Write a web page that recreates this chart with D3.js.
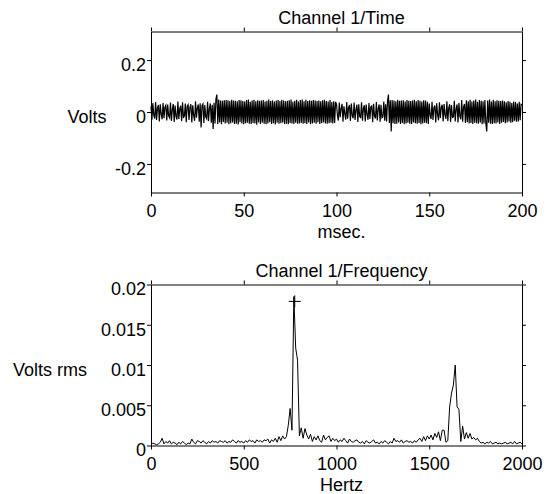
<!DOCTYPE html>
<html>
<head>
<meta charset="utf-8">
<script src="https://cdn.jsdelivr.net/npm/d3@7"></script>
<style>
  body { margin: 0; background: #fff; }
  text { font-family: "Liberation Sans", Arial, sans-serif; font-size: 18px; fill: #000; }
  .domain, .tick line { stroke: #000; }
</style>
</head>
<body>
<div id="chart"></div>
<script>
// channel 1, time record (volts, one sample every 0.5 ms)
var timeStepMs = 0.5;
var timeVolts = [
  .021,-.030,.034,-.012,-.025,.038,-.031,.015,.027,-.036,.030,-.008,-.028,.035,-.024,.019,.026,-.033,.029,-.015,
  -.022,.036,-.034,.010,.031,-.038,.025,-.018,-.029,.040,-.027,.012,.024,-.035,.037,-.020,-.016,.033,-.039,.022,
  .028,-.031,.018,.030,-.040,.026,-.013,-.034,.041,-.022,.016,.029,-.037,.034,-.060,.024,.031,-.042,.027,-.019,
  -.026,.039,-.035,.014,.033,-.041,.028,-.065,.036,-.044,.050,.067,-.046,.048,-.040,.044,-.047,.043,-.038,.045,
  -.044,.046,-.041,.045,-.047,.042,-.043,.047,-.040,.044,-.046,.043,-.045,.041,-.048,.046,-.039,.045,-.044,.042,
  -.047,.040,-.043,.046,-.041,.048,-.045,.039,-.046,.044,-.042,.047,-.044,.041,-.049,.045,-.040,.043,-.046,.044,
  -.041,.046,-.045,.040,-.047,.043,-.044,.048,-.039,.042,-.046,.045,-.043,.040,-.048,.044,-.041,.046,-.045,.042,
  -.043,.047,-.040,.044,-.046,.041,-.045,.043,-.047,.045,-.042,.048,-.044,.039,-.046,.043,-.041,.047,-.045,.040,
  -.044,.046,-.042,.048,-.045,.041,-.043,.047,-.046,.042,-.040,.045,-.047,.043,-.044,.046,-.041,.044,-.045,.042,
  -.039,.044,-.046,.041,-.043,.045,-.040,.047,-.044,.042,-.045,.040,-.043,.046,-.041,.038,-.044,.041,-.042,.039,
  .030,-.012,-.033,.036,-.020,.014,.031,-.037,.022,-.008,-.029,.038,-.026,.017,.027,-.035,.033,-.015,-.024,.036,
  -.031,.009,.028,-.038,.030,-.018,-.021,.037,-.034,.013,.026,-.036,.029,-.011,-.030,.035,-.027,.020,.023,-.039,
  .032,-.016,-.025,.038,-.033,.012,.029,-.037,.028,-.022,-.019,.040,-.034,.030,-.036,.041,.067,-.042,.045,-.075,
  .046,-.043,.044,-.046,.041,-.045,.047,-.040,.043,-.046,.044,-.042,.045,-.047,.040,-.044,.046,-.041,.043,-.045,
  .042,-.046,.044,-.040,.047,-.043,.041,-.045,.046,-.042,.043,-.047,.040,-.044,.045,-.041,.044,-.043,.039,-.046,
  .033,-.014,-.027,.039,-.031,.016,.025,-.040,.034,-.010,-.032,.037,-.023,.019,.028,-.036,.031,-.013,-.026,.041,
  -.035,.015,.030,-.038,.027,-.021,-.019,.043,-.036,.012,.029,-.040,.035,-.017,-.028,.046,-.037,.020,.031,-.042,
  .045,-.039,.041,-.044,.047,-.042,.040,-.046,.044,-.041,.048,-.043,.039,-.045,.046,-.040,.043,-.047,.041,-.044,
  .046,-.042,-.075,.044,-.041,.048,-.045,.040,-.046,.047,-.043,.041,-.044,.045,-.040,.043,-.046,.042,-.041,.044,
  -.038,.041,-.043,.037,-.040,.042,-.036,.039,-.041,.035,-.039,.040,-.034,.038,-.037,.033,-.036,.039,-.032,.030,
  .028
];

// channel 1, spectrum (volts rms, one bin every 10 Hz from 0 to 2000)
var freqStepHz = 10;
var spectrumVrms = [
  .0001,.0003,.0002,.0001,.0002,.0004,.0009,.0002,.0005,.0003,
  .0006,.0002,.0004,.0003,.0001,.0004,.0002,.0005,.0003,.0001,
  .0003,.0002,.0008,.0004,.0002,.0006,.0005,.0003,.0006,.0004,
  .0002,.0005,.0003,.0006,.0004,.0005,.0003,.0006,.0005,.0004,
  .0006,.0003,.0005,.0004,.0007,.0005,.0003,.0006,.0004,.0005,
  .0003,.0006,.0004,.0007,.0005,.0006,.0003,.0007,.0005,.0006,
  .0004,.0007,.0006,.0008,.0003,.0007,.0005,.0009,.0004,.0011,
  .0006,.0012,.0008,.0011,.0025,.0046,.0019,.0185,.0121,.0106,
  .0012,.0022,.0009,.0021,.0013,.0008,.0014,.0005,.0011,.0007,
  .0012,.0006,.0004,.0013,.0007,.0010,.0012,.0005,.0009,.0006,
  .0008,.0004,.0007,.0005,.0009,.0006,.0003,.0008,.0005,.0004,
  .0006,.0007,.0004,.0003,.0005,.0002,.0006,.0004,.0003,.0005,
  .0007,.0003,.0004,.0002,.0005,.0003,.0006,.0004,.0002,.0005,
  .0003,.0009,.0005,.0006,.0004,.0007,.0003,.0005,.0006,.0004,
  .0005,.0003,.0006,.0004,.0007,.0009,.0005,.0011,.0006,.0012,
  .0008,.0013,.0007,.0015,.0010,.0017,.0006,.0019,.0019,.0004,
  .0006,.0048,.0065,.0075,.0100,.0048,.0045,.0005,.0024,.0008,
  .0016,.0009,.0015,.0008,.0010,.0007,.0009,.0005,.0003,.0004,
  .0002,.0004,.0003,.0005,.0002,.0003,.0004,.0002,.0003,.0002,
  .0003,.0004,.0002,.0003,.0004,.0002,.0005,.0002,.0003,.0004,
  .0002
];

// "+" marker on the spectrum peak [Hz, Vrms]
var peakMarker = [[775, 0.0179]];

var timeTicks = [0, 50, 100, 150, 200];
var voltTicks = [-0.2, 0, 0.2];
var freqTicks = [0, 500, 1000, 1500, 2000];
var rmsTicks = [0, 0.005, 0.01, 0.015, 0.02];

var width = 547, height = 494;
var left = 151, right = 522;

var svg = d3.select("#chart").append("svg")
    .attr("width", width)
    .attr("height", height);

//draws one boxed panel, ticks outward on all four sides
function panel(opts) {
  var x = d3.scaleLinear().domain(opts.xDomain).range([left, right]);
  var y = d3.scaleLinear().domain(opts.yDomain).range([opts.bottom, opts.top]);
  var fmt = function(d) { return String(d); };

  var g = svg.append("g");

  g.append("g")
      .attr("transform", "translate(0," + opts.bottom + ")")
      .call(d3.axisBottom(x).tickValues(opts.xTicks).tickFormat(fmt).tickSize(4).tickSizeOuter(0).tickPadding(8));

  g.append("g")
      .attr("transform", "translate(0," + opts.top + ")")
      .call(d3.axisTop(x).tickValues(opts.xTicks).tickFormat("").tickSize(4).tickSizeOuter(0));

  g.append("g")
      .attr("transform", "translate(" + left + ",0)")
      .call(d3.axisLeft(y).tickValues(opts.yTicks).tickFormat(fmt).tickSize(4).tickSizeOuter(0).tickPadding(1))
      .call(function(a) { a.selectAll("text").attr("dy", "0.58em"); });

  g.append("g")
      .attr("transform", "translate(" + right + ",0)")
      .call(d3.axisRight(y).tickValues(opts.yTicks).tickFormat("").tickSize(4).tickSizeOuter(0));

  //axis helpers set their own font, drop it so the css applies
  g.selectAll("g").attr("font-family", null).attr("font-size", null);

  g.append("path")
      .datum(opts.values)
      .attr("fill", "none")
      .attr("stroke", "#000")
      .attr("stroke-width", opts.lineWidth)
      .attr("d", d3.line()
          .x(function(d, i) { return x(i * opts.step); })
          .y(function(d) { return y(d); }));

  //labels
  var mid = (left + right) / 2 + 5;
  g.append("text")
      .attr("x", mid).attr("y", opts.top - 8)
      .attr("text-anchor", "middle")
      .text(opts.title);
  g.append("text")
      .attr("x", mid).attr("y", opts.bottom + 45)
      .attr("text-anchor", "middle")
      .text(opts.xLabel);
  g.append("text")
      .attr("x", opts.yLabelX).attr("y", y(opts.yLabelAt) + 10.5)
      .attr("text-anchor", "middle")
      .text(opts.yLabel);

  return { g: g, x: x, y: y };
}

panel({
  top: 31.5, bottom: 192.5,
  xDomain: [0, 200], yDomain: [-0.31, 0.31],
  xTicks: timeTicks, yTicks: voltTicks,
  values: timeVolts, step: timeStepMs, lineWidth: 1.2,
  title: "Channel 1/Time", xLabel: "msec.", yLabel: "Volts",
  yLabelX: 87, yLabelAt: 0
});

var freq = panel({
  top: 284.5, bottom: 445.5,
  xDomain: [0, 2000], yDomain: [0, 0.02],
  xTicks: freqTicks, yTicks: rmsTicks,
  values: spectrumVrms, step: freqStepHz, lineWidth: 1,
  title: "Channel 1/Frequency", xLabel: "Hertz", yLabel: "Volts rms",
  yLabelX: 50, yLabelAt: 0.01
});

//peak marker
var plus = freq.g.selectAll(".peak")
    .data(peakMarker)
    .enter().append("g")
    .attr("class", "peak")
    .attr("transform", function(d) { return "translate(" + freq.x(d[0]) + "," + freq.y(d[1]) + ")"; });
plus.append("path")
    .attr("d", "M-6,0H6M0,-6V6")
    .attr("stroke", "#000")
    .attr("stroke-width", 1)
    .attr("fill", "none");
</script>
</body>
</html>
